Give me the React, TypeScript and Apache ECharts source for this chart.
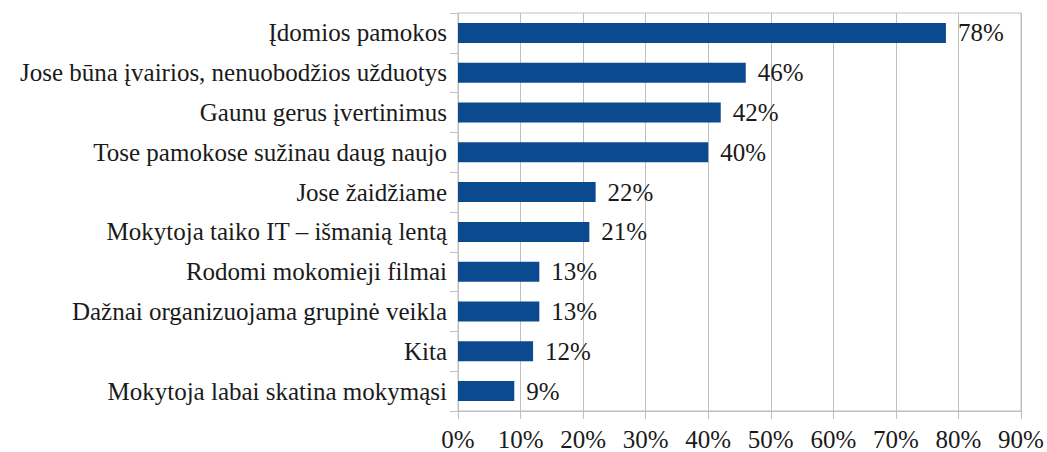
import React, { useEffect, useRef } from "react";
import * as echarts from "echarts";

const categories = [
  "Įdomios pamokos",
  "Jose būna įvairios, nenuobodžios užduotys",
  "Gaunu gerus įvertinimus",
  "Tose pamokose sužinau daug naujo",
  "Jose žaidžiame",
  "Mokytoja taiko IT – išmanią lentą",
  "Rodomi mokomieji filmai",
  "Dažnai organizuojama grupinė veikla",
  "Kita",
  "Mokytoja labai skatina mokymąsi",
];
const values = [78, 46, 42, 40, 22, 21, 13, 13, 12, 9];

const FONT = "Liberation Serif";
const FS = 25;

export default function App() {
  const ref = useRef<HTMLDivElement>(null);
  useEffect(() => {
    const chart = echarts.init(ref.current!, null, { renderer: "svg" });
    chart.setOption({
      animation: false,
      textStyle: { fontFamily: FONT },
      grid: {
        left: 458,
        right: 26,
        top: 13,
        bottom: 41,
        containLabel: false,
        show: true,
        borderColor: "#bfbfbf",
        borderWidth: 1,
      },
      xAxis: {
        type: "value",
        min: 0,
        max: 90,
        interval: 10,
        axisLine: { show: true, lineStyle: { color: "#bfbfbf" } },
        axisTick: { show: true, length: 8, lineStyle: { color: "#bfbfbf" } },
        splitLine: { show: true, lineStyle: { color: "#bfbfbf" } },
        axisLabel: {
          formatter: "{value}%",
          color: "#1a1a1a",
          fontFamily: FONT,
          fontSize: FS,
          margin: 16,
        },
      },
      yAxis: {
        type: "category",
        data: categories,
        inverse: true,
        axisLine: { show: true, lineStyle: { color: "#bfbfbf" } },
        axisTick: { show: true, length: 8, lineStyle: { color: "#bfbfbf" } },
        axisLabel: {
          color: "#1a1a1a",
          fontFamily: FONT,
          fontSize: FS,
          margin: 11,
        },
      },
      series: [
        {
          type: "bar",
          data: values,
          barWidth: 20,
          itemStyle: { color: "#0b4a8e" },
          label: {
            show: true,
            position: "right",
            distance: 12,
            formatter: "{c}%",
            color: "#1a1a1a",
            fontFamily: FONT,
            fontSize: FS,
          },
        },
      ],
    });
    return () => chart.dispose();
  }, []);
  return (
    <div
      ref={ref}
      style={{ position: "absolute", left: 0, top: 0, width: 1047, height: 452, background: "#fff" }}
    />
  );
}
